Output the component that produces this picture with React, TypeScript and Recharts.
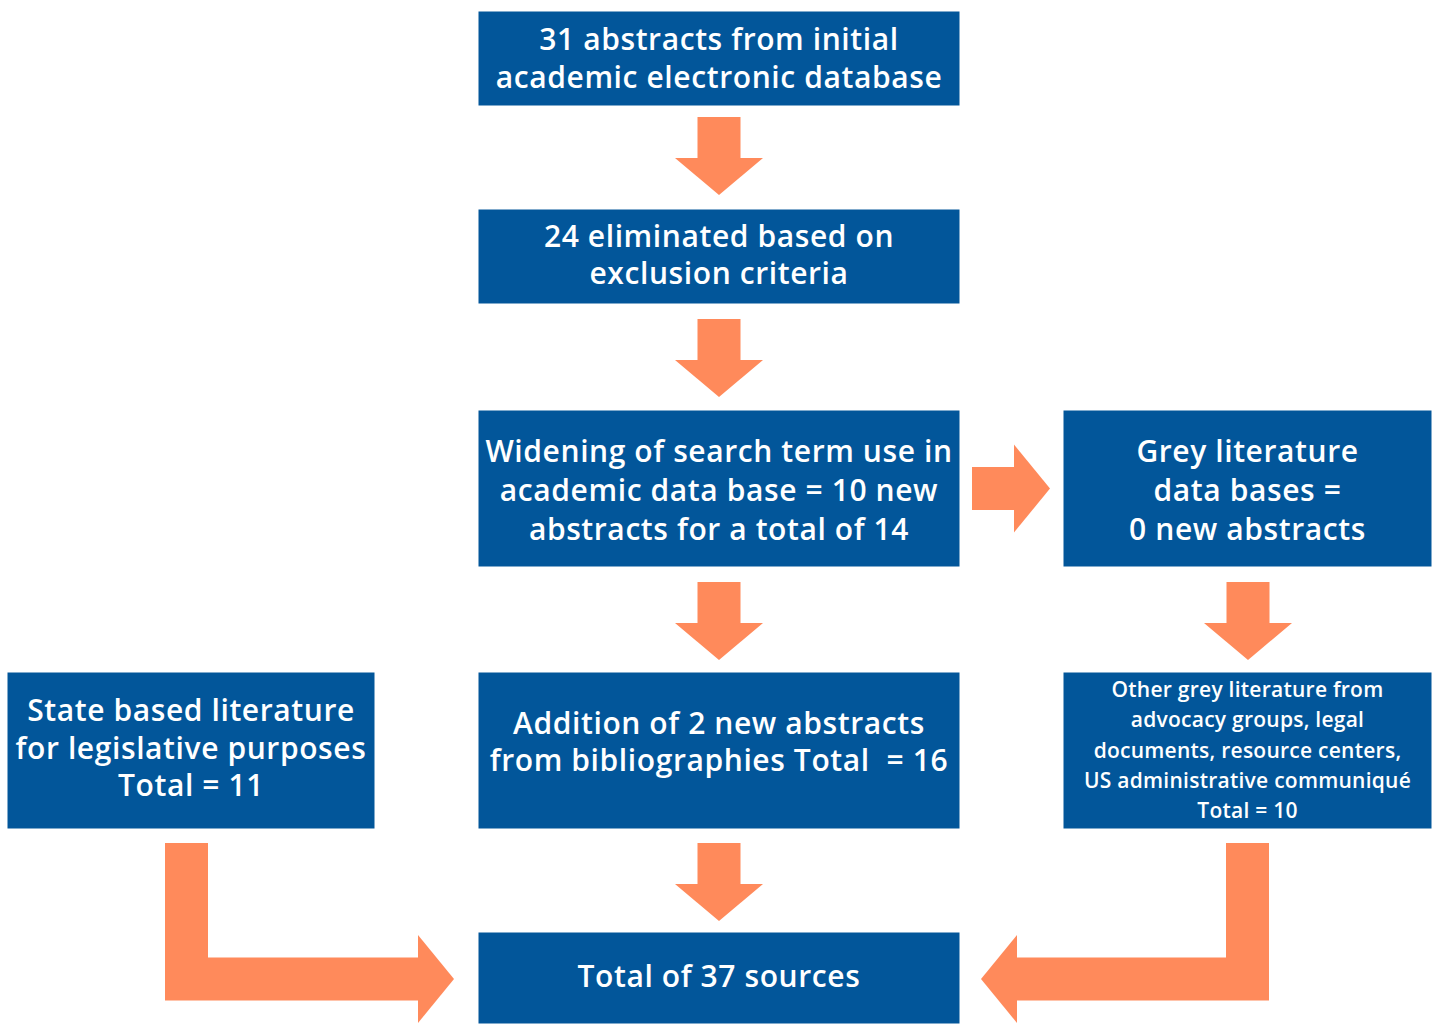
import React from "react";
import { ScatterChart, Scatter, XAxis, YAxis } from "recharts";

const BLUE = "#02569a";
const ORANGE = "#ff8a5b";
const FONT = "'Open Sans', 'Noto Sans', sans-serif";

// flowchart nodes: centre of each box (drawing units = pixels of the original)
const nodes = [
  { id: "initial", x: 719, y: 58.5, lines: ["31 abstracts from initial", "academic electronic database"] },
  { id: "eliminated", x: 719, y: 256.5, lines: ["24 eliminated based on", "exclusion criteria"] },
  { id: "widening", x: 719, y: 488.5, lines: ["Widening of search term use in", "academic data base = 10 new", "abstracts for a total of 14"] },
  { id: "grey", x: 1247.5, y: 488.5, lines: ["Grey literature", "data bases =", "0 new abstracts"] },
  { id: "state", x: 191, y: 750.5, lines: ["State based literature", "for legislative purposes", "Total = 11"] },
  { id: "biblio", x: 719, y: 750.5, lines: ["Addition of 2 new abstracts", "from bibliographies Total  = 16"] },
  { id: "other", x: 1247.5, y: 750.5, lines: ["Other grey literature from", "advocacy groups, legal", "documents, resource centers,", "US administrative communiqué", "Total = 10"] },
  { id: "total", x: 719, y: 978, lines: ["Total of 37 sources"] },
];

// arrows: shaft path points, the head sits at the last point
const arrows = [
  { id: "a1", head: "down", points: [{ x: 719, y: 117 }, { x: 719, y: 158 }] },
  { id: "a2", head: "down", points: [{ x: 719, y: 319 }, { x: 719, y: 360 }] },
  { id: "a3", head: "right", points: [{ x: 972, y: 488.5 }, { x: 1014, y: 488.5 }] },
  { id: "a4", head: "down", points: [{ x: 719, y: 582 }, { x: 719, y: 623 }] },
  { id: "a5", head: "down", points: [{ x: 1248, y: 582 }, { x: 1248, y: 623 }] },
  { id: "a6", head: "down", points: [{ x: 719, y: 843 }, { x: 719, y: 884 }] },
  { id: "a7", head: "right", points: [{ x: 186.5, y: 843 }, { x: 186.5, y: 979 }, { x: 418, y: 979 }] },
  { id: "a8", head: "left", points: [{ x: 1247.5, y: 843 }, { x: 1247.5, y: 979 }, { x: 1017, y: 979 }] },
];

const boxStyle: Record<string, { w: number; h: number; fs: number; lh: number; dy: number }> = {
  initial: { w: 481, h: 94, fs: 30, lh: 38, dy: -1 },
  eliminated: { w: 481, h: 94, fs: 30, lh: 37, dy: -3 },
  widening: { w: 481, h: 156, fs: 30, lh: 39, dy: 1 },
  grey: { w: 368, h: 156, fs: 30, lh: 39, dy: 1 },
  state: { w: 367, h: 156, fs: 30, lh: 37.5, dy: -3.5 },
  biblio: { w: 481, h: 156, fs: 30, lh: 37, dy: -10 },
  other: { w: 368, h: 156, fs: 21, lh: 30.3, dy: -1 },
  total: { w: 481, h: 91, fs: 30, lh: 38, dy: -3 },
};

const BoxShape = (props: any) => {
  const { cx, cy, payload } = props;
  const s = boxStyle[payload.id];
  const n = payload.lines.length;
  return (
    <g>
      <rect x={cx - s.w / 2} y={cy - s.h / 2} width={s.w} height={s.h} fill={BLUE} />
      {payload.lines.map((t: string, i: number) => (
        <text
          key={i}
          x={cx}
          y={cy + s.dy + (i - (n - 1) / 2) * s.lh}
          textAnchor="middle"
          dominantBaseline="central"
          fill="#fff"
          fontFamily={FONT}
          fontSize={s.fs}
          fontWeight={600}
          letterSpacing={s.fs > 25 ? 0.6 : 0.25}
          style={{ whiteSpace: "pre" }}
        >
          {t}
        </text>
      ))}
    </g>
  );
};

const HEAD_LEN = 37;
const HEAD_W = 88;

const HeadShape = (props: any) => {
  const { cx, cy, payload } = props;
  if (!payload.head) return <g />;
  const h = HEAD_W / 2;
  let pts = "";
  if (payload.head === "down") pts = `${cx - h},${cy} ${cx + h},${cy} ${cx},${cy + HEAD_LEN}`;
  if (payload.head === "right") pts = `${cx},${cy - h} ${cx},${cy + h} ${cx + HEAD_LEN - 1},${cy}`;
  if (payload.head === "left") pts = `${cx},${cy - h} ${cx},${cy + h} ${cx - HEAD_LEN + 1},${cy}`;
  return <polygon points={pts} fill={ORANGE} />;
};

export default function App() {
  return (
    <div style={{ position: "absolute", left: 0, top: 0, background: "#fff" }}>
      <ScatterChart width={1435} height={1024} margin={{ top: 0, right: 0, bottom: 0, left: 0 }}>
        <XAxis type="number" dataKey="x" domain={[0, 1435]} hide />
        <YAxis type="number" dataKey="y" domain={[0, 1024]} reversed hide />
        {arrows.map(a => (
          <Scatter
            key={a.id}
            data={a.points.map((p, i) => ({ ...p, head: i === a.points.length - 1 ? a.head : null }))}
            line={{ stroke: ORANGE, strokeWidth: 43, strokeLinejoin: "miter" }}
            lineType="joint"
            shape={HeadShape}
            isAnimationActive={false}
          />
        ))}
        <Scatter data={nodes} shape={BoxShape} isAnimationActive={false} />
      </ScatterChart>
    </div>
  );
}
